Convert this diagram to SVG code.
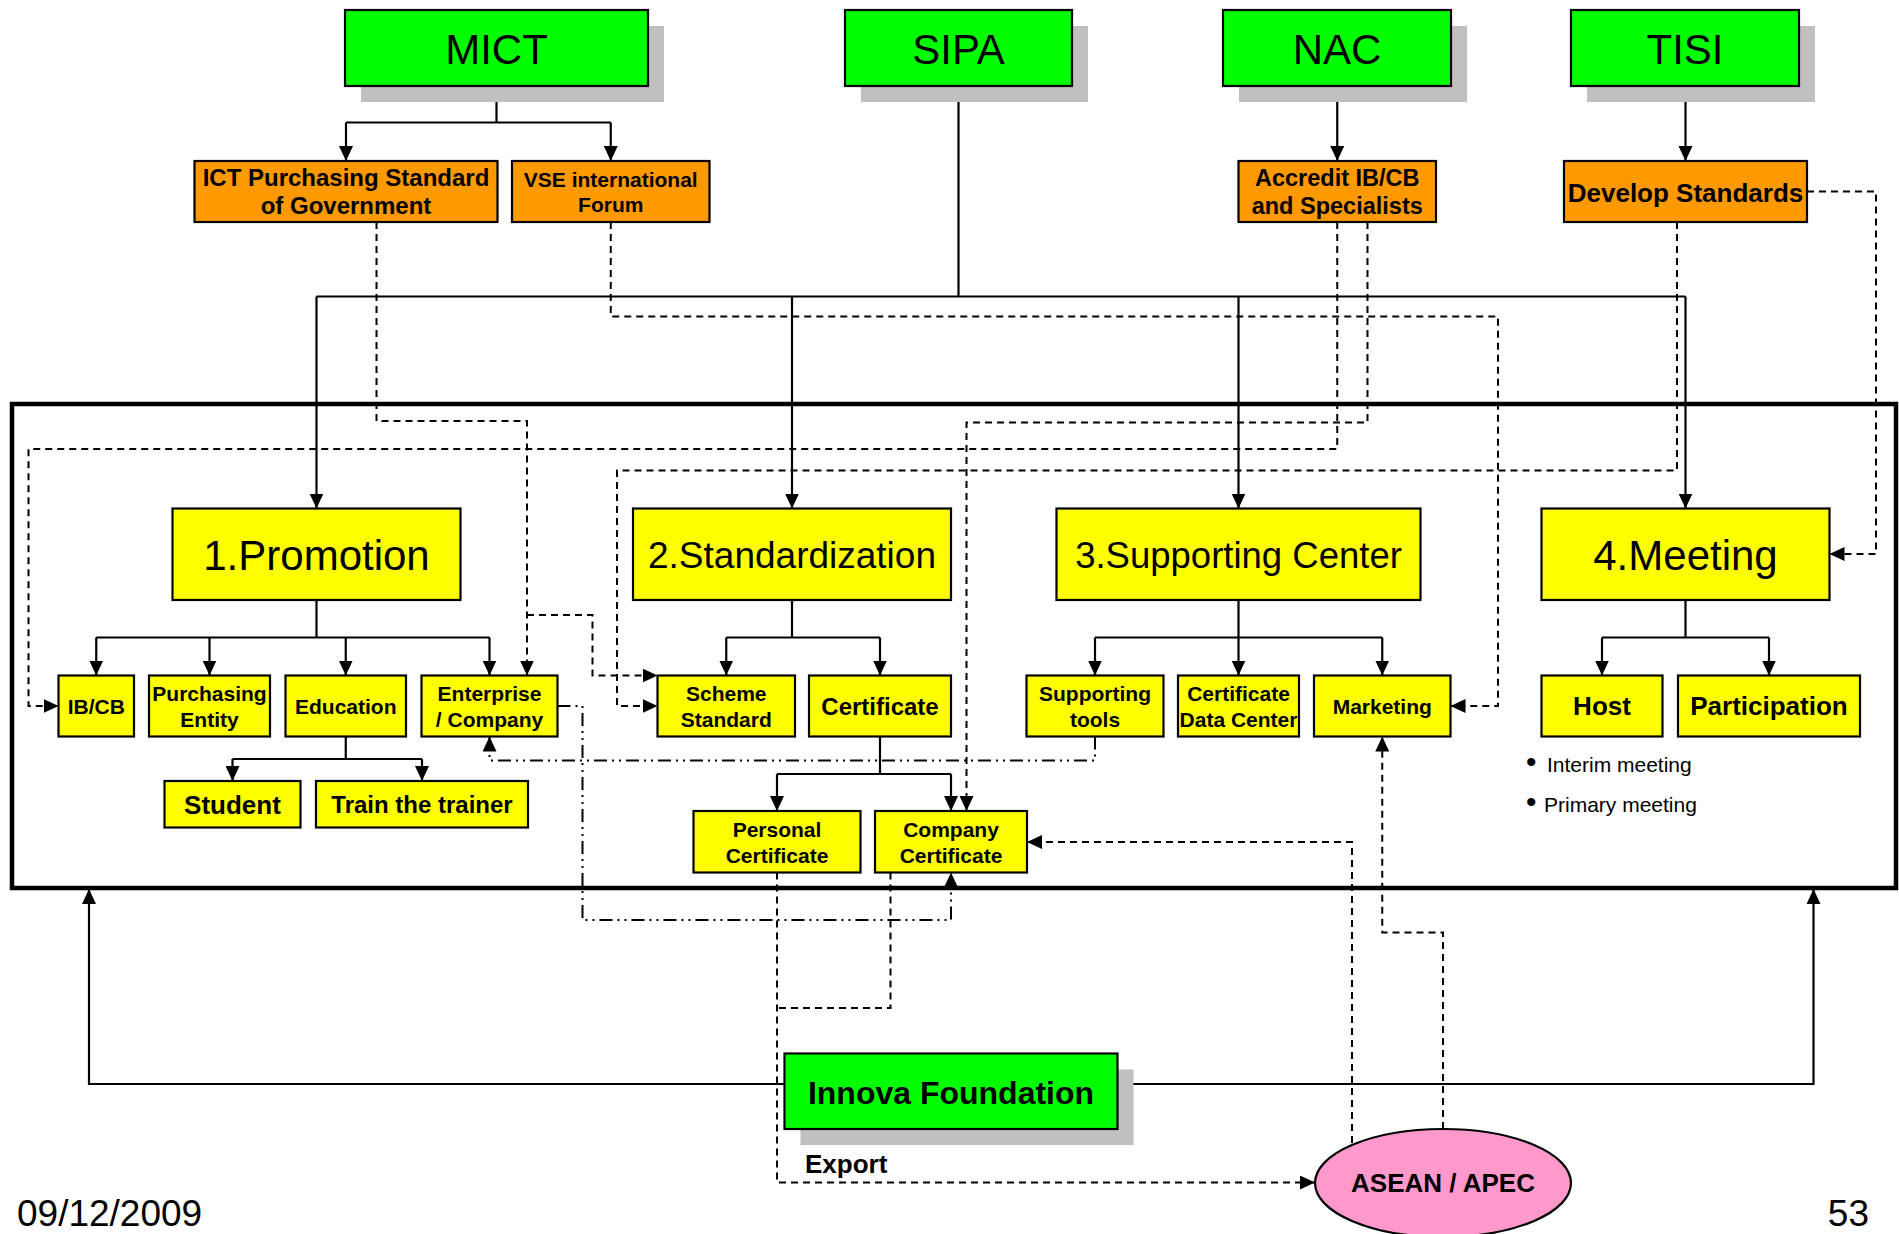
<svg xmlns="http://www.w3.org/2000/svg" width="1899" height="1234" viewBox="0 0 1899 1234">
<style>
text{font-family:"Liberation Sans",Arial,sans-serif;fill:#000;text-anchor:middle}
.b{font-weight:bold}
.box{stroke:#000;stroke-width:2.2}
.g{fill:#00FF00}
.o{fill:#FF9900}
.y{fill:#FFFF00}
.sh{fill:#C0C0C0}
.ln{fill:none;stroke:#000;stroke-width:2.2}
.ds{fill:none;stroke:#000;stroke-width:2;stroke-dasharray:7 5}
.dd{fill:none;stroke:#000;stroke-width:2;stroke-dasharray:13 5 2 5 2 5}
.t1{font-size:42px}
.t2{font-size:21px}
</style>
<defs>
<marker id="ah" markerUnits="userSpaceOnUse" viewBox="0 0 15 14" markerWidth="15" markerHeight="14" refX="15" refY="7" orient="auto"><path d="M0,0 L15,7 L0,14 z" fill="#000"/></marker>
</defs>
<rect x="0" y="0" width="1899" height="1234" fill="#fff"/>
<rect id="frame" x="12" y="404" width="1884" height="484" fill="none" stroke="#000" stroke-width="4.5"/>

<g id="connectors">
<path class="ln" d="M496.5 86V122.5M346 122.5H610.75"/>
<path class="ln" d="M346 122.5V161" marker-end="url(#ah)"/>
<path class="ln" d="M610.75 122.5V161" marker-end="url(#ah)"/>
<path class="ln" d="M958.5 86V296.5M316.5 296.5H1685.5"/>
<path class="ln" d="M316.5 296.5V508.5" marker-end="url(#ah)"/>
<path class="ln" d="M792 296.5V508.5" marker-end="url(#ah)"/>
<path class="ln" d="M1238.5 296.5V508.5" marker-end="url(#ah)"/>
<path class="ln" d="M1685.5 296.5V508.5" marker-end="url(#ah)"/>
<path class="ln" d="M1337.25 86V161" marker-end="url(#ah)"/>
<path class="ln" d="M1685.5 86V161" marker-end="url(#ah)"/>
<path class="ln" d="M316.5 600V637.5M96.25 637.5H489.5"/>
<path class="ln" d="M96.25 637.5V675.5" marker-end="url(#ah)"/>
<path class="ln" d="M209.5 637.5V675.5" marker-end="url(#ah)"/>
<path class="ln" d="M345.75 637.5V675.5" marker-end="url(#ah)"/>
<path class="ln" d="M489.5 637.5V675.5" marker-end="url(#ah)"/>
<path class="ln" d="M345.75 736.5V759M232.5 759H422"/>
<path class="ln" d="M232.5 759V781" marker-end="url(#ah)"/>
<path class="ln" d="M422 759V781" marker-end="url(#ah)"/>
<path class="ln" d="M792 600V637.5M726.25 637.5H880"/>
<path class="ln" d="M726.25 637.5V675.5" marker-end="url(#ah)"/>
<path class="ln" d="M880 637.5V675.5" marker-end="url(#ah)"/>
<path class="ln" d="M880 736.5V774M777 774H951"/>
<path class="ln" d="M777 774V811" marker-end="url(#ah)"/>
<path class="ln" d="M951 774V811" marker-end="url(#ah)"/>
<path class="ln" d="M1238.5 600V637.5M1095 637.5H1382.25"/>
<path class="ln" d="M1095 637.5V675.5" marker-end="url(#ah)"/>
<path class="ln" d="M1238.5 637.5V675.5" marker-end="url(#ah)"/>
<path class="ln" d="M1382.25 637.5V675.5" marker-end="url(#ah)"/>
<path class="ln" d="M1685.5 600V637.5M1602 637.5H1769"/>
<path class="ln" d="M1602 637.5V675.5" marker-end="url(#ah)"/>
<path class="ln" d="M1769 637.5V675.5" marker-end="url(#ah)"/>
<path class="ln" d="M784.5 1084H89V889" marker-end="url(#ah)"/>
<path class="ln" d="M1117.5 1084H1813.5V889" marker-end="url(#ah)"/>

<path class="ds" d="M376.5 222V421H527V675.5" marker-end="url(#ah)"/>
<path class="ds" d="M527 615H592.5V675.5H657.5" marker-end="url(#ah)"/>
<path class="ds" d="M610.75 222V316.5H1498V706H1450.5" marker-end="url(#ah)"/>
<path class="ds" d="M1337.25 222V449H28.5V706H58.5" marker-end="url(#ah)"/>
<path class="ds" d="M1367.5 222V422.5H966.5V811" marker-end="url(#ah)"/>
<path class="ds" d="M1677 222V470.5H617V706H657.5" marker-end="url(#ah)"/>
<path class="ds" d="M1807 191.5H1876V554H1829.5" marker-end="url(#ah)"/>
<path class="ds" d="M1352 1143V842H1027" marker-end="url(#ah)"/>
<path class="ds" d="M1443 1129V932.5H1382.25V736.5" marker-end="url(#ah)"/>
<path class="ds" d="M777 872.5V1182.5H1315" marker-end="url(#ah)"/>
<path class="ds" d="M890.5 872.5V1008H777"/>
<path class="dd" d="M1095 736.5V760.5H489.5V736.5" marker-end="url(#ah)"/>
<path class="dd" d="M557.5 706H582.5V920H951V872.5" marker-end="url(#ah)"/>
</g>

<g id="mict"><rect class="sh" x="361" y="26" width="303" height="76"/><rect class="box g" x="345" y="10" width="303" height="76"/><text class="t1" x="496.5" y="64">MICT</text></g>
<g id="sipa"><rect class="sh" x="861" y="26" width="227" height="76"/><rect class="box g" x="845" y="10" width="227" height="76"/><text class="t1" x="958.5" y="64">SIPA</text></g>
<g id="nac"><rect class="sh" x="1239" y="26" width="228" height="76"/><rect class="box g" x="1223" y="10" width="228" height="76"/><text class="t1" x="1337" y="64">NAC</text></g>
<g id="tisi"><rect class="sh" x="1587" y="26" width="228" height="76"/><rect class="box g" x="1571" y="10" width="228" height="76"/><text class="t1" x="1685" y="64">TISI</text></g>

<g id="ict"><rect class="box o" x="194.5" y="161" width="303" height="61"/><text class="b" style="font-size:24px" x="346" y="186">ICT Purchasing Standard</text><text class="b" style="font-size:24px" x="346" y="214">of Government</text></g>
<g id="vse"><rect class="box o" x="512" y="161" width="197.5" height="61"/><text class="b" style="font-size:21px" x="610.75" y="187">VSE international</text><text class="b" style="font-size:21px" x="610.75" y="212">Forum</text></g>
<g id="accredit"><rect class="box o" x="1238.5" y="161" width="197.5" height="61"/><text class="b" style="font-size:23.5px" x="1337.25" y="186">Accredit IB/CB</text><text class="b" style="font-size:23.5px" x="1337.25" y="213.5">and Specialists</text></g>
<g id="develop"><rect class="box o" x="1564" y="161" width="243" height="61"/><text class="b" style="font-size:26px" x="1685.5" y="201.5">Develop Standards</text></g>

<g id="promotion"><rect class="box y" x="172.5" y="508.5" width="288" height="91.5"/><text class="t1" x="316.5" y="570">1.Promotion</text></g>
<g id="standardization"><rect class="box y" x="633" y="508.5" width="318" height="91.5"/><text style="font-size:37px" x="792" y="567.5">2.Standardization</text></g>
<g id="supporting"><rect class="box y" x="1056.5" y="508.5" width="364" height="91.5"/><text style="font-size:36.5px" x="1238.5" y="567.5">3.Supporting Center</text></g>
<g id="meeting"><rect class="box y" x="1541.5" y="508.5" width="288" height="91.5"/><text class="t1" x="1685.5" y="570">4.Meeting</text></g>

<g id="ibcb"><rect class="box y" x="58.5" y="675.5" width="75.5" height="61"/><text class="b t2" x="96.25" y="713.5">IB/CB</text></g>
<g id="purchasing"><rect class="box y" x="149" y="675.5" width="121" height="61"/><text class="b t2" x="209.5" y="700.5">Purchasing</text><text class="b t2" x="209.5" y="726.5">Entity</text></g>
<g id="education"><rect class="box y" x="285.5" y="675.5" width="120.5" height="61"/><text class="b t2" x="345.75" y="713.5">Education</text></g>
<g id="enterprise"><rect class="box y" x="421.5" y="675.5" width="136" height="61"/><text class="b t2" x="489.5" y="700.5">Enterprise</text><text class="b t2" x="489.5" y="726.5">/ Company</text></g>
<g id="scheme"><rect class="box y" x="657.5" y="675.5" width="137.5" height="61"/><text class="b t2" x="726.25" y="700.5">Scheme</text><text class="b t2" x="726.25" y="726.5">Standard</text></g>
<g id="certificate"><rect class="box y" x="809" y="675.5" width="142" height="61"/><text class="b" style="font-size:24px" x="880" y="715">Certificate</text></g>
<g id="tools"><rect class="box y" x="1026.5" y="675.5" width="137" height="61"/><text class="b t2" x="1095" y="700.5">Supporting</text><text class="b t2" x="1095" y="726.5">tools</text></g>
<g id="datacenter"><rect class="box y" x="1178" y="675.5" width="121" height="61"/><text class="b t2" x="1238.5" y="700.5">Certificate</text><text class="b t2" x="1238.5" y="726.5">Data Center</text></g>
<g id="marketing"><rect class="box y" x="1314" y="675.5" width="136.5" height="61"/><text class="b t2" x="1382.25" y="713.5">Marketing</text></g>
<g id="host"><rect class="box y" x="1541.5" y="675.5" width="121" height="61"/><text class="b" style="font-size:26px" x="1602" y="715">Host</text></g>
<g id="participation"><rect class="box y" x="1678" y="675.5" width="182" height="61"/><text class="b" style="font-size:26px" x="1769" y="715">Participation</text></g>

<g id="student"><rect class="box y" x="164.5" y="781" width="136" height="46.5"/><text class="b" style="font-size:26px" x="232.5" y="813.5">Student</text></g>
<g id="trainer"><rect class="box y" x="316" y="781" width="212" height="46.5"/><text class="b" style="font-size:24px" x="422" y="813">Train the trainer</text></g>
<g id="personal"><rect class="box y" x="693.5" y="811" width="167" height="61.5"/><text class="b t2" x="777" y="836.5">Personal</text><text class="b t2" x="777" y="862.5">Certificate</text></g>
<g id="company"><rect class="box y" x="875" y="811" width="152" height="61.5"/><text class="b t2" x="951" y="836.5">Company</text><text class="b t2" x="951" y="862.5">Certificate</text></g>

<g id="bullets">
<text style="font-size:30px;text-anchor:start" x="1526" y="772">•</text>
<text class="t2" style="text-anchor:start" x="1547" y="771.5">Interim meeting</text>
<text style="font-size:30px;text-anchor:start" x="1526" y="812">•</text>
<text class="t2" style="text-anchor:start" x="1544" y="811.5">Primary meeting</text>
</g>

<g id="innova"><rect class="sh" x="800.5" y="1069.5" width="333" height="75.5"/><rect class="box g" x="784.5" y="1053.5" width="333" height="75.5"/><text class="b" style="font-size:32px" x="951" y="1103.5">Innova Foundation</text></g>
<text class="b" style="font-size:26px;text-anchor:start" x="805" y="1173">Export</text>
<g id="asean"><ellipse cx="1443" cy="1183" rx="128" ry="54" fill="#FF99CC" stroke="#000" stroke-width="2.2"/><text class="b" style="font-size:26px" x="1443" y="1192">ASEAN / APEC</text></g>

<text style="font-size:37px;text-anchor:start" x="17" y="1226">09/12/2009</text>
<text style="font-size:37px;text-anchor:end" x="1869" y="1226">53</text>
</svg>
